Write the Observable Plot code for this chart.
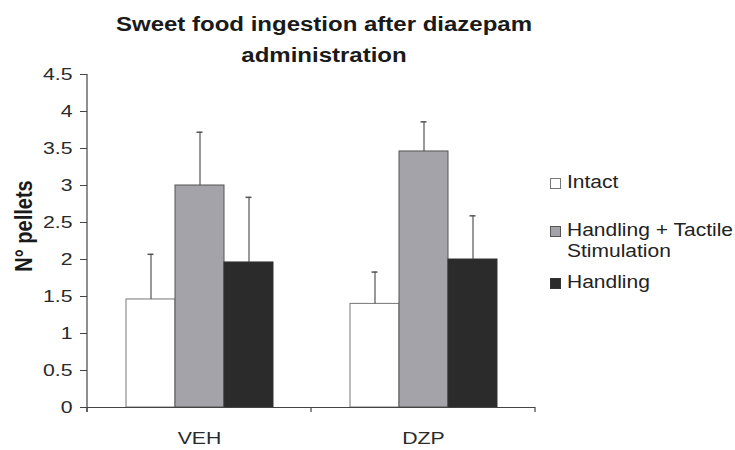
<!DOCTYPE html>
<html>
<head>
<meta charset="utf-8">
<script src="https://cdn.jsdelivr.net/npm/d3@7"></script>
<script src="https://cdn.jsdelivr.net/npm/@observablehq/plot@0.6"></script>
<style>
  html, body { margin: 0; padding: 0; background: #fff; }
  #wrap { position: relative; width: 735px; height: 450px; overflow: hidden; font-family: "Liberation Sans", Arial, sans-serif; color: #1a1a1a; }
  #chart { position: absolute; left: 0; top: 0; }
  .title { position: absolute; left: 0; width: 648px; top: 9px; text-align: center; font-weight: bold; font-size: 20px; line-height: 31px; transform: scaleX(1.2); transform-origin: 324px 0; }
  .ylabel { position: absolute; left: 24px; top: 226px; font-weight: bold; font-size: 20px; white-space: nowrap; transform: translate(-50%, -50%) rotate(-90deg) scaleY(1.2); }
  .leg { position: absolute; font-size: 17.5px; line-height: 21px; white-space: nowrap; color: #222; }
  .leg .sw { position: absolute; left: 0; width: 9px; height: 9px; border: 1px solid #555; }
  .leg .tx { position: absolute; left: 17px; transform: scaleX(1.2); transform-origin: 0 0; }
</style>
</head>
<body>
<div id="wrap">
  <div id="chart"></div>
  <div class="title">Sweet food ingestion after diazepam<br>administration</div>
  <div class="ylabel">N° pellets</div>
  <div id="legend"></div>
</div>
<script>
// ---- data ----
const categories = ["VEH", "DZP"];
const groups = ["Intact", "Handling + Tactile Stimulation", "Handling"];
const intactMean = [1.46, 1.40];
const intactUpper = [2.07, 1.83];
const htsMean = [3.00, 3.46];
const htsUpper = [3.72, 3.86];
const handlingMean = [1.96, 2.00];
const handlingUpper = [2.84, 2.59];
const yTicks = [0, 0.5, 1, 1.5, 2, 2.5, 3, 3.5, 4, 4.5];
const legendLines = [["Intact"], ["Handling + Tactile", "Stimulation"], ["Handling"]];

const fills = ["#ffffff", "#a3a3a9", "#2b2b2b"];
const strokes = ["#777777", "#555555", "#333333"];

const series = [[intactMean, intactUpper], [htsMean, htsUpper], [handlingMean, handlingUpper]];
const rows = [];
categories.forEach((c, ci) => {
  groups.forEach((g, gi) => {
    rows.push({cat: c, group: g, mean: series[gi][0][ci], upper: series[gi][1][ci]});
  });
});

const plot = Plot.plot({
  width: 735,
  height: 450,
  marginLeft: 87,
  marginRight: 200,
  marginTop: 74,
  marginBottom: 43,
  style: {fontFamily: "'Liberation Sans', Arial, sans-serif", fontSize: "17px", color: "#2a2a2a", background: "transparent"},
  fx: {domain: categories, padding: 0, label: null},
  x: {domain: groups, paddingInner: 0, paddingOuter: 0.755, axis: null},
  y: {domain: [0, 4.5], label: null},
  color: {domain: groups, range: fills},
  marks: [
    Plot.barY(rows, {fx: "cat", x: "group", y: "mean", fill: "group", stroke: (d) => strokes[groups.indexOf(d.group)], strokeWidth: 1}),
    Plot.ruleX(rows, {fx: "cat", x: "group", y1: "mean", y2: "upper", stroke: "#555", strokeWidth: 1.2}),
    Plot.tickY(rows, {fx: "cat", x: "group", y: "upper", stroke: "#555", strokeWidth: 1.5, insetLeft: 21.5, insetRight: 21.5}),
    Plot.ruleY([0], {stroke: "#444", strokeWidth: 1.2}),
    Plot.axisY({ticks: yTicks, tickFormat: (d) => String(d), tickSize: 7, tickPadding: 8, stroke: "#444", label: null}),
    Plot.axisFx({anchor: "bottom", tickSize: 0, tickPadding: 24, label: null})
  ]
});
document.getElementById("chart").appendChild(plot);

const svg = d3.select(plot);
const fxs = plot.scale("fx");
const ys = plot.scale("y");
const y0 = ys.apply(0);
const yTop = ys.apply(yTicks[yTicks.length - 1]);
const edges = categories.map((c) => fxs.apply(c));
edges.push(fxs.apply(categories[categories.length - 1]) + fxs.bandwidth);

// y axis line
svg.append("line").attr("stroke", "#444").attr("stroke-width", 1.2)
  .attr("x1", edges[0]).attr("x2", edges[0]).attr("y1", yTop).attr("y2", y0 + 5);

// boundary ticks on the category axis
svg.append("g").attr("stroke", "#444").attr("stroke-width", 1.2)
  .selectAll("line").data(edges).join("line")
  .attr("x1", (d) => d).attr("x2", (d) => d)
  .attr("y1", y0).attr("y2", y0 + 5);

// horizontal stretch on the SVG text, as in the reference image
svg.selectAll("text").each(function () {
  const t = d3.select(this);
  const x = +(t.attr("x") || 0) || 0;
  const tr = t.attr("transform") || "";
  t.attr("transform", `${tr} translate(${x},0) scale(1.25,1) translate(${-x},0)`);
});

// legend
const legendTops = [172, 220, 272];
const legend = d3.select("#legend");
legendLines.forEach((lines, i) => {
  const item = legend.append("div").attr("class", "leg")
    .style("left", "550px").style("top", legendTops[i] + "px");
  item.append("div").attr("class", "sw")
    .style("top", "6px").style("background", fills[i]).style("border-color", strokes[i]);
  item.append("div").attr("class", "tx").html(lines.join("<br>"));
});
</script>
</body>
</html>
